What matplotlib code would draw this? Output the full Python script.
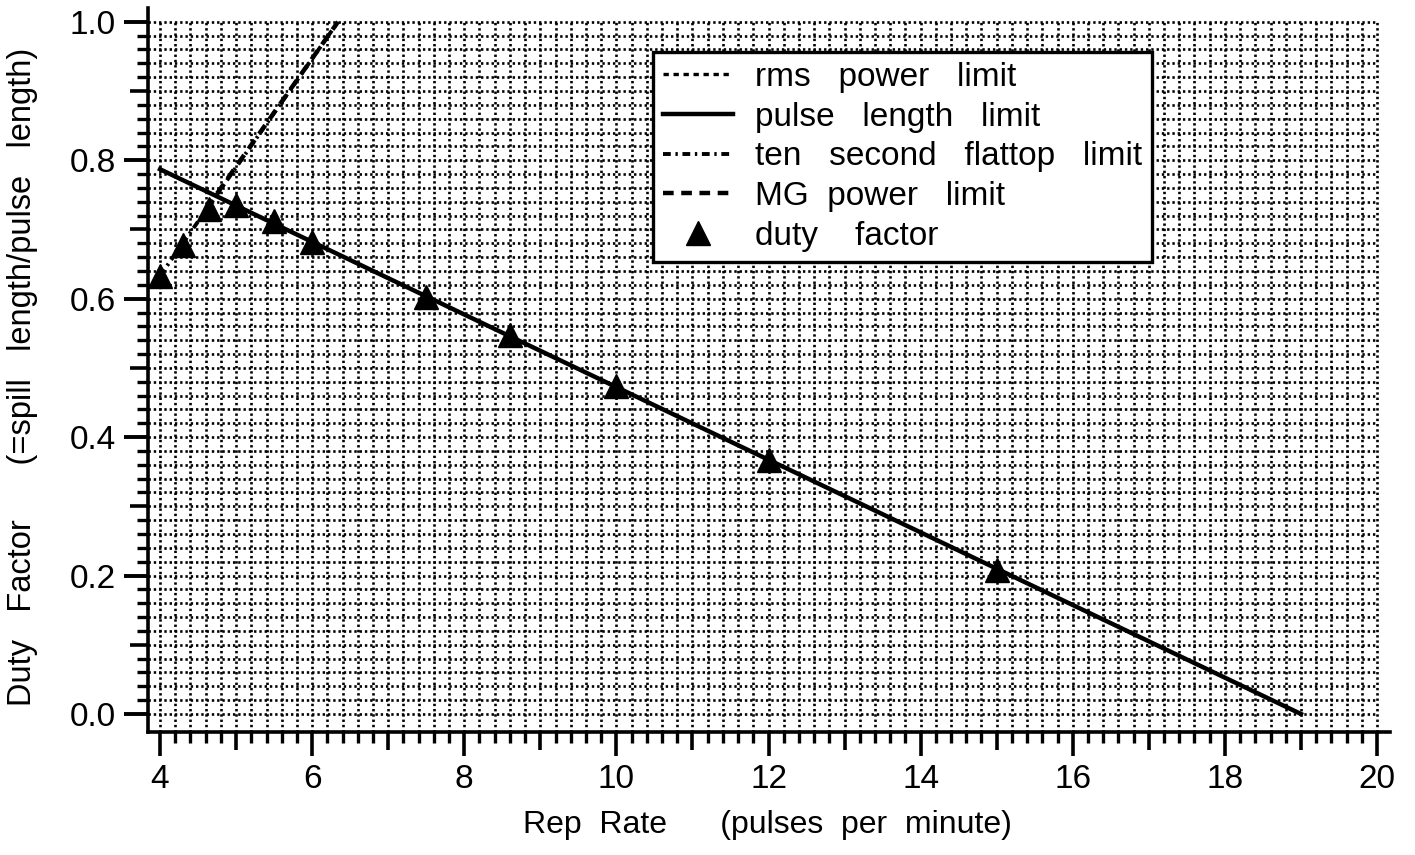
import numpy as np
import matplotlib
matplotlib.use("Agg")
import matplotlib.pyplot as plt
from matplotlib.ticker import FixedLocator, FuncFormatter

plt.rcParams['font.family'] = ['Liberation Sans', 'DejaVu Sans']

# duty factor points
rep_rate = [4.0, 4.3, 4.65, 5.0, 5.5, 6.0, 7.5, 8.6, 10.0, 12.0, 15.0]
duty = [0.633, 0.677, 0.730, 0.736, 0.712, 0.682, 0.603, 0.548, 0.474, 0.367, 0.208]

# limit lines
pulse_x = [4.0, 19.0]
pulse_y = [0.787, 0.0]
flattop_x = [4.0, 6.34]
flattop_y = [0.633, 1.0]
mg_x = [4.75, 6.34]
mg_y = [0.752, 1.0]
rms_x = []
rms_y = []

x_labels = [4, 6, 8, 10, 12, 14, 16, 18, 20]
y_labels = [0.0, 0.2, 0.4, 0.6, 0.8, 1.0]

fig = plt.figure(figsize=(14.15, 8.55), dpi=100)
ax = fig.add_axes([0.1046, 0.1439, 0.8777, 0.8468])
xlo, xhi = 3.842, 20.17
ylo, yhi = -0.026, 1.02
ax.set_xlim(xlo, xhi)
ax.set_ylim(ylo, yhi)

# dotted grid, only inside 4..20 / 0..1
gx = np.round(np.arange(4.0, 20.01, 0.2), 2)
gy = np.round(np.arange(0.0, 1.001, 0.02), 3)
dot = (0, (0.9, 1.1))
ax.vlines(gx, ylo, 1.0, colors='black', linewidth=1.9, linestyles=[dot], zorder=1)
ax.hlines(gy, xlo, 20.0, colors='black', linewidth=1.9, linestyles=[dot], zorder=1)

ax.plot(rms_x, rms_y, color='black', lw=2.4, ls=(0, (1.6, 1.4)), label='rms   power   limit')
ax.plot(pulse_x, pulse_y, color='black', lw=3.2, ls='-', label='pulse   length   limit', zorder=3)
ax.plot(flattop_x, flattop_y, color='black', lw=2.8, ls=(0, (2.0, 1.2, 0.6, 1.2)),
        label='ten   second   flattop   limit', zorder=3)
ax.plot(mg_x, mg_y, color='black', lw=3.2, ls=(0, (2.4, 1.7)), label='MG  power   limit', zorder=3)
ax.plot(rep_rate, duty, ls='none', marker='^', ms=17, color='black', label='duty    factor', zorder=4)

for s in ['top', 'right']:
    ax.spines[s].set_visible(False)
for s in ['left', 'bottom']:
    ax.spines[s].set_linewidth(2.6)

# ticks: major at integers / 0.1, minor at 0.2 / 0.02
ax.xaxis.set_major_locator(FixedLocator(np.arange(4, 21, 1)))
ax.xaxis.set_minor_locator(FixedLocator(gx))
ax.yaxis.set_major_locator(FixedLocator(np.round(np.arange(0, 1.01, 0.1), 2)))
ax.yaxis.set_minor_locator(FixedLocator(gy))
ax.xaxis.set_major_formatter(FuncFormatter(lambda v, p: f"{int(round(v))}" if int(round(v)) in x_labels else ""))
ax.yaxis.set_major_formatter(FuncFormatter(lambda v, p: f"{v:.1f}" if round(v, 1) in y_labels else ""))
ax.tick_params(axis='both', which='major', direction='out', length=13, width=2.6, colors='black',
               labelsize=24, pad=10)
ax.tick_params(axis='both', which='minor', direction='out', length=8, width=2.4)

fig.canvas.draw()
for t in ax.xaxis.get_major_ticks():
    if int(round(t.get_loc())) in x_labels:
        t.tick1line.set_markersize(17)
for t in ax.yaxis.get_major_ticks():
    if round(t.get_loc(), 1) in y_labels:
        t.tick1line.set_markersize(17)
        t.tick1line.set_markeredgewidth(2.8)

ax.set_xlabel("Rep  Rate      (pulses  per  minute)", fontsize=23)
ax.set_ylabel("Duty   Factor      (=spill   length/pulse   length)", fontsize=23.5)
ax.xaxis.set_label_coords(0.4984, -0.108)
ax.yaxis.set_label_coords(-0.0886, 0.49)

leg = ax.legend(loc='upper left', bbox_to_anchor=(0.4066, 0.939), borderaxespad=0,
                fontsize=24, frameon=True, fancybox=False, edgecolor='black',
                handlelength=2.1, handletextpad=0.65, labelspacing=0.26, borderpad=0.3)
leg.get_frame().set_linewidth(2.4)
leg.get_frame().set_alpha(1)

fig.savefig("out.png", dpi=100, facecolor='white')
